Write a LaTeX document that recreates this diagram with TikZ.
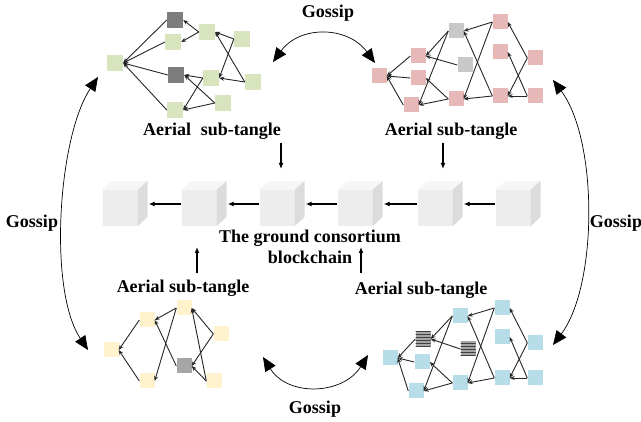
\documentclass[tikz,border=0pt]{standalone}
\usepackage{fontspec}
\setmainfont{Liberation Serif}
\usetikzlibrary{arrows.meta,calc,patterns}

\definecolor{leafgreen}{RGB}{215,228,189}
\definecolor{leafpink}{RGB}{230,184,183}
\definecolor{leafblue}{RGB}{183,222,232}
\definecolor{leafyellow}{RGB}{255,242,204}
\definecolor{tipdark}{RGB}{125,125,125}
\definecolor{tiplight}{RGB}{200,200,200}
\definecolor{blockfront}{RGB}{237,237,237}
\definecolor{blocktop}{RGB}{246,246,246}
\definecolor{blockside}{RGB}{220,220,220}

\tikzset{
  tx/.style={
    inner sep = 0pt,
    shape = rectangle,
    minimum size = 15pt
  },
}
\tikzset{
  gtx/.style={tx, minimum size = 16pt, fill = leafgreen},
  ptx/.style={tx, fill = leafpink},
  btx/.style={tx, fill = leafblue},
  ytx/.style={tx, fill = leafyellow},
  stripe/.style={fill = black!35, postaction={pattern = horizontal lines, pattern color = black!75}},
  edge/.style={draw = black!85, line width = 0.9pt, -{Stealth[length=5pt,width=4pt]}},
  block/.style={inner sep = 0pt, minimum width = 35pt, minimum height = 36pt, fill = blockfront},
  link/.style={line width = 1.6pt, -{Latex[length=6pt,width=5pt]}},
  gossip/.style={line width = 0.7pt, {Triangle[length=14pt,width=12pt]}-{Triangle[length=14pt,width=12pt]}},
  lbl/.style={font = \fontsize{18}{21}\selectfont\bfseries, inner sep = 0pt, align = center}
}

\begin{document}
\begin{tikzpicture}[x=1pt,y=-1pt]
    \useasboundingbox (0,0) rectangle (641,422);
    % aerial sub-tangle, top left
    \node[gtx] (G0) at (115,63) {};
    \node[gtx, fill=tipdark] (G1) at (175,20) {};
    \node[gtx] (G2) at (173,42) {};
    \node[gtx] (G3) at (207,32) {};
    \node[gtx] (G4) at (242,39) {};
    \node[gtx, fill=tipdark] (G5) at (176,75) {};
    \node[gtx] (G6) at (211,78) {};
    \node[gtx] (G7) at (253,82) {};
    \node[gtx] (G8) at (223,103) {};
    \node[gtx] (G9) at (175,110) {};
    \foreach \a/\b in {1/0,2/0,5/0,9/0,3/1,3/2,4/3,4/6,7/3,7/6,6/5,6/9,8/5,8/9}
        \draw[edge] (G\a.west) -- (G\b.east);
    % aerial sub-tangle, top right
    \node[ptx] (P0) at (379,76) {};
    \node[ptx] (P1) at (418,56) {};
    \node[ptx] (P2) at (418,78) {};
    \node[ptx] (P3) at (411,105) {};
    \node[ptx, fill=tiplight] (P4) at (456,31) {};
    \node[ptx, fill=tiplight] (P5) at (465,65) {};
    \node[ptx] (P6) at (456,99) {};
    \node[ptx] (P7) at (500,22) {};
    \node[ptx] (P8) at (500,52) {};
    \node[ptx] (P9) at (500,96) {};
    \node[ptx] (P10) at (535,58) {};
    \node[ptx] (P11) at (535,96) {};
    \foreach \a/\b in {1/0,2/0,3/0,4/1,4/3,5/1,6/2,6/3,7/4,7/6,9/4,9/6,10/7,10/9,11/8,11/9}
        \draw[edge] (P\a.west) -- (P\b.east);
    % aerial sub-tangle, bottom left
    \node[ytx] (Y0) at (111,350) {};
    \node[ytx] (Y1) at (147,320) {};
    \node[ytx] (Y2) at (147,381) {};
    \node[ytx] (Y3) at (184,308) {};
    \node[ytx, fill=black!35] (Y4) at (184,366) {};
    \node[ytx] (Y5) at (221,334) {};
    \node[ytx] (Y6) at (214,381) {};
    \foreach \a/\b in {1/0,2/0,3/1,3/2,4/1,5/3,5/4,6/3,6/4}
        \draw[edge] (Y\a.west) -- (Y\b.east);
    % aerial sub-tangle, bottom right
    \node[btx] (B0) at (390,358) {};
    \node[btx, stripe] (B1) at (423,339) {};
    \node[btx] (B2) at (422,362) {};
    \node[btx] (B3) at (416,391) {};
    \node[btx] (B4) at (460,316) {};
    \node[btx, stripe] (B5) at (468,349) {};
    \node[btx] (B6) at (460,383) {};
    \node[btx] (B7) at (502,308) {};
    \node[btx] (B8) at (502,337) {};
    \node[btx] (B9) at (502,378) {};
    \node[btx] (B10) at (535,343) {};
    \node[btx] (B11) at (535,378) {};
    \foreach \a/\b in {1/0,2/0,3/0,4/1,4/3,5/1,6/2,6/3,7/4,7/6,9/4,9/6,10/7,10/9,11/8,11/9}
        \draw[edge] (B\a.west) -- (B\b.east);
    % ground consortium blockchain
    \foreach \i/\x in {1/120,2/199,3/277,4/355,5/435,6/513} {
        \node[block] (b\i) at (\x,208) {};
        \fill[blocktop] (b\i.north west) -- ++(10,-9) -- ++(35,0) -- (b\i.north east) -- cycle;
        \fill[blockside] (b\i.north east) -- ++(10,-9) -- ++(0,36) -- (b\i.south east) -- cycle;
    }
    \foreach \i/\j in {2/1,3/2,4/3,5/4,6/5}
        \draw[link] ($(b\i.west)+(0,-4)$) -- ($(b\j.east)+(11,-4)$);
    % labels
    \node[lbl] (aTL) at (212,131) {Aerial\hspace{0.3em} sub-tangle};
    \node[lbl] (aTR) at (451,131) {Aerial sub-tangle};
    \node[lbl] (aBL) at (183,288) {Aerial sub-tangle};
    \node[lbl] (aBR) at (421,290) {Aerial sub-tangle};
    \node[lbl] (chain) at (310,247) {The ground consortium\\blockchain};
    \node[lbl] (gsT) at (328,13) {Gossip};
    \node[lbl] (gsL) at (32,223) {Gossip};
    \node[lbl] (gsR) at (616,223) {Gossip};
    \node[lbl] (gsB) at (315,409) {Gossip};
    % uploads to the chain
    \coordinate (vTL) at (281,143);
    \coordinate (vTLb) at (281,169);
    \coordinate (vTR) at (443,143);
    \coordinate (vTRb) at (443,169);
    \coordinate (vBL) at (197,273);
    \coordinate (vBLb) at (197,247);
    \coordinate (vBR) at (361,273);
    \coordinate (vBRb) at (361,247);
    \draw[link] (vTL) -- (vTLb);
    \draw[link] (vTR) -- (vTRb);
    \draw[link] (vBL) -- (vBLb);
    \draw[link] (vBR) -- (vBRb);
    % gossip between sub-tangles
    \coordinate (gT1) at (273,62);
    \coordinate (gT2) at (375,63);
    \coordinate (gL1) at (98,77);
    \coordinate (gL2) at (88,350);
    \coordinate (gR1) at (553,80);
    \coordinate (gR2) at (553,345);
    \coordinate (gB1) at (263,357);
    \coordinate (gB2) at (368,355);
    \draw[gossip] (gT1) .. controls +(27,-37) and +(-27,-37) .. (gT2);
    \draw[gossip] (gL1) .. controls +(-40,60) and +(-40,-60) .. (gL2);
    \draw[gossip] (gR1) .. controls +(45,60) and +(45,-60) .. (gR2);
    \draw[gossip] (gB1) .. controls +(25,40) and +(-25,40) .. (gB2);
\end{tikzpicture}
\end{document}
